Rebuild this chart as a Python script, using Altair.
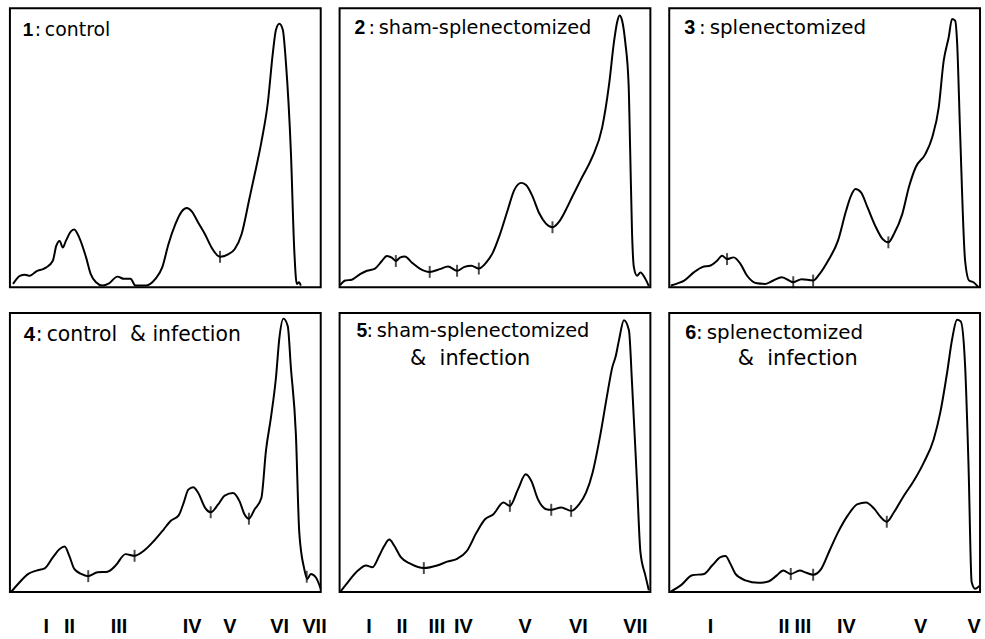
import altair as alt
import pandas as pd

# ---------------- data (x: % of panel width, y: % of panel height) ----------------
P1_X = [1, 3.2, 4.8, 6.4, 8.5, 10.6, 11.7, 13.8, 14.9, 16, 17, 18, 19.7, 20.7, 22.3, 24.5, 26, 27.7, 29.8, 31.9,
        34.6, 36.7, 38.8, 40.4, 43.6, 46.8, 49, 51, 53.2, 55.3, 56.9, 58.5, 60.6, 62.8, 64.9, 67.6, 70.2, 72.3, 74.5, 77.1,
        78.7, 80.9, 83, 84.6, 85.6, 86.7, 87.8, 88.8, 90.4, 91.5, 92.3, 93, 93.6]
P1_Y = [1.2, 4.1, 4.5, 4.1, 5.7, 6.5, 7.1, 9.5, 14.8, 16.6, 14.2, 16.6, 20.1, 20.7, 17.8, 10.7, 4.7, 1.8, 0.6, 1.4,
        3.8, 3, 3, 0.6, 0.6, 3, 7.1, 15.4, 22.5, 27.2, 28.4, 27.2, 23.1, 18.9, 14.2, 10.9, 11.8, 13.6, 18.9, 32,
        40.2, 52, 66.3, 84, 92.3, 94.4, 92.3, 80.5, 48.5, 13, 1.2, 1.8, 0.6]
P1_TX = [67.6]
P1_TY = [10.9]

P2_X = [0.2, 1.8, 3.9, 6.6, 8.8, 11.4, 13.6, 15.2, 16.8, 18.1, 19.4, 21, 23.2, 25.8, 29, 32.2, 34.9, 37.8, 40.2, 42.4,
        44.8, 47.2, 49.3, 51.4, 54.1, 56.2, 58.4, 60, 62.1, 64.2, 66.4, 68.5, 70.7, 72.8, 74.9, 78.1, 81.3, 84.5, 86.7, 88.3,
        89.3, 90.1, 90.9, 91.9, 93, 93.5, 94.1, 94.7, 95.7, 96.8, 98.4, 99.5]
P2_Y = [0.8, 2.4, 2.7, 4.7, 5.9, 6.7, 9.4, 11.2, 10.6, 9.4, 10.6, 11, 8.9, 6.7, 5.5, 6.5, 7.4, 5.9, 7.3, 7.7,
        6.7, 8.9, 12.4, 18.3, 27.7, 34.8, 37.4, 36.6, 32.5, 26.6, 22.8, 21.5, 23.6, 27.7, 32.5, 39.6, 46.6, 57.3, 72.6, 88,
        95, 97.4, 95.6, 88, 72.6, 49, 19.5, 7.1, 4.1, 5.3, 3, 0.4]
P2_TX = [18.1, 29, 37.8, 44.8, 68.5]
P2_TY = [9.4, 5.5, 5.9, 6.7, 21.5]

P3_X = [0.5, 2.7, 4.8, 8, 10.6, 13.3, 15.4, 17, 18.6, 20.7, 22.9, 25, 28.2, 30.9, 33.5, 36.2, 39.9, 42.6, 46.3, 48.4,
        51.1, 54.3, 56.9, 58.5, 59.9, 61.7, 63.8, 66.5, 68.6, 70.5, 72.3, 75, 77.1, 79.3, 82.4, 84.6, 86.7, 88.3, 89.9, 91,
        92, 92.6, 93.6, 95.2, 96.5, 97.9, 99.5]
P3_Y = [0.6, 1.4, 2.4, 5.4, 7.2, 7.8, 9.5, 11.3, 10.1, 10.7, 8.4, 4.2, 1.4, 1.2, 2.4, 3.6, 1.8, 2.9, 2.4, 4.8,
        9.5, 16.7, 27.4, 32.8, 35.2, 34, 28.6, 21.5, 17.3, 16.1, 19.1, 26.3, 35.8, 43, 47.7, 53.7, 64.4, 81.1, 89.5, 96.1,
        95.5, 88.3, 54.9, 9.5, 2.4, 1.8, 0]
P3_TX = [18.6, 39.9, 46.3, 70.5]
P3_TY = [10.1, 1.8, 2.4, 16.1]

P4_X = [0.5, 3.2, 5.9, 8.5, 11.2, 13.8, 16, 17.6, 19.1, 20.7, 22.9, 25.2, 28.2, 31.4, 34, 37.2, 40.1, 43.1, 46.3, 49.5,
        51.6, 54.3, 55.9, 57.4, 59, 60.6, 62.8, 64.6, 67, 69.1, 71.8, 73.9, 75.5, 76.9, 78.7, 80.9, 82.4, 84, 85.6, 86.7,
        88, 89.4, 90.4, 92, 93.1, 94.7, 95.7, 96.8, 98.4, 100]
P4_Y = [0.2, 3.6, 6.5, 7.7, 8.5, 12.4, 15.4, 16.3, 13, 8.3, 6.5, 5.7, 7.1, 7.3, 9.5, 13.6, 13, 14.8, 18.3, 22.5,
        25.4, 27.5, 32, 36.7, 37.6, 35.5, 30.2, 28.6, 31.4, 34.6, 35.5, 32.5, 27.8, 26.3, 29.6, 33.7, 50.9, 62.7, 76.9, 91.1,
        98, 95.3, 80.5, 56.8, 21.3, 8.3, 4.7, 6.5, 5.3, 1.2]
P4_TX = [25.2, 40.1, 64.6, 76.9, 95.5]
P4_TY = [5.7, 13, 28.6, 26.3, 5.5]

P5_X = [0.3, 2.7, 5.9, 8.5, 10.6, 12.8, 14.4, 16, 17.6, 19.7, 22.9, 27.1, 31.4, 34.6, 37.8, 41, 44.1, 46.8, 49.5, 52.7,
        54.8, 57.4, 59.9, 61.7, 63.8, 66.5, 68.1, 71.3, 74.5, 77.1, 79.3, 81.4, 84, 86.2, 87.8, 88.8, 89.9, 91.5, 93.1, 94.1,
        95.7, 96.8, 98.4, 99.5]
P5_Y = [0.2, 3.6, 7.7, 9.5, 8.9, 13.1, 16.6, 18.8, 16.6, 12.5, 10.1, 8.6, 9.5, 10.9, 11.9, 14.8, 21.4, 26.1, 27.9, 32.1,
        30.9, 36.8, 42.2, 39.8, 33.3, 29.7, 29.5, 30.3, 29.1, 31.5, 35.6, 42.8, 57, 71.3, 80.8, 84.3, 90.3, 97.4, 93.8, 74.8,
        39.2, 14.3, 5.9, 0.6]
P5_TX = [27.1, 54.8, 68.1, 74.5]
P5_TY = [8.6, 30.9, 29.5, 29.1]

P6_X = [0.5, 3.7, 7.4, 11.2, 13.8, 16.5, 18.1, 19.7, 21.3, 24.5, 28.7, 31.9, 34.6, 36.7, 39.1, 42, 44.1, 46.3, 48.9, 51.6,
        54.3, 57.4, 60.6, 63.3, 66, 68.1, 70, 72.3, 75.5, 78.7, 81.9, 85.1, 87.2, 89.4, 91, 92.6, 93.8, 95.2, 96.3, 97.3,
        98.4, 100]
P6_Y = [0.2, 2.4, 6, 6.5, 9.5, 12.5, 12.9, 10.1, 6.5, 4.2, 3.3, 3.8, 6, 7.7, 6.5, 7.7, 6.9, 6.2, 8.3, 14.9,
        21.4, 27.4, 31.5, 32.1, 29.8, 26.8, 25.2, 28.6, 34.5, 39.9, 46.4, 54.8, 64.3, 78.6, 90.5, 97.6, 97, 81, 45.2, 3.6,
        1.2, 2.4]
P6_TX = [39.1, 46.3, 70]
P6_TY = [6.5, 6.2, 25.2]

# fraction labels under the bottom row
P4_LAB = ["I", "II", "III", "IV", "V", "VI", "VII"]
P4_LAB_X = [11.7, 19.2, 35.1, 58.6, 70.8, 86.8, 98.0]
P5_LAB = ["I", "II", "III", "IV", "V", "VI", "VII"]
P5_LAB_X = [9.5, 20.1, 31.3, 39.8, 59.7, 76.8, 95.2]
P6_LAB = ["I", "II", "III", "IV", "V", "V"]
P6_LAB_X = [13.3, 36.9, 43.0, 57.0, 80.9, 98.1]

TITLES = [
    ("1", ":\u2009control", None),
    ("2", ":\u2009sham-splenectomized", None),
    ("3", ":\u2009splenectomized", None),
    ("4", ":\u2009control\u00a0\u00a0&\u00a0infection", None),
    ("5", ":\u2009sham-splenectomized", "&\u00a0\u00a0infection"),
    ("6", ":\u2009splenectomized", "&\u00a0\u00a0infection"),
]

# ---------------- layout / style ----------------
W, H = 313, 281
FONT = "DejaVu Sans"
# per-panel title placement: number x, colon x, baseline y, font size, line-2 x, line-2 baseline, line-2 size
TSTYLE = [
    (13, 25, 28, 19.0, 0, 0, 0),
    (15, 29, 26, 19.5, 0, 0, 0),
    (15, 30, 26, 20.0, 0, 0, 0),
    (14, 26, 28, 20.5, 0, 0, 0),
    (17, 27, 24, 19.5, 71, 52, 21),
    (16, 27, 26, 20.0, 69, 52, 21),
]

xs = alt.Scale(domain=[0, 100], nice=False, zero=False)
ys = alt.Scale(domain=[0, 100], nice=False, zero=False)


def text_layer(s, x, y, size, weight="normal", font=FONT):
    return alt.Chart(pd.DataFrame({"t": [s]})).mark_text(
        align="left", baseline="alphabetic", font=font, fontSize=size,
        fontWeight=weight, color="black"
    ).encode(x=alt.value(x), y=alt.value(y), text="t:N")


def panel(i, px, py, tx, ty, labs=None, labx=None):
    curve = alt.Chart(pd.DataFrame({"x": px, "y": py})).mark_line(
        color="black", strokeWidth=2, interpolate="monotone"
    ).encode(x=alt.X("x:Q", scale=xs, axis=None), y=alt.Y("y:Q", scale=ys, axis=None))
    ticks = alt.Chart(pd.DataFrame({"x": tx, "y": ty})).mark_tick(
        orient="vertical", color="black", size=12, thickness=2
    ).encode(x=alt.X("x:Q", scale=xs, axis=None), y=alt.Y("y:Q", scale=ys, axis=None))
    num, name, line2 = TITLES[i]
    nx, cx, by, fs, l2x, l2y, l2s = TSTYLE[i]
    layers = [curve, ticks,
              text_layer(num, nx, by, fs, "bold", "Liberation Sans"),
              text_layer(name, cx, by, fs)]
    if line2:
        layers.append(text_layer(line2, l2x, l2y, l2s))
    if labs:
        lab = alt.Chart(pd.DataFrame({"x": labx, "t": labs})).mark_text(
            align="center", baseline="alphabetic", font="Liberation Sans Narrow, Liberation Sans",
            fontSize=20, fontWeight="bold", color="black"
        ).encode(x=alt.X("x:Q", scale=xs, axis=None), y=alt.value(H + 41), text="t:N")
        layers.append(lab)
    return alt.layer(*layers).properties(width=W, height=H)


charts = [
    panel(0, P1_X, P1_Y, P1_TX, P1_TY),
    panel(1, P2_X, P2_Y, P2_TX, P2_TY),
    panel(2, P3_X, P3_Y, P3_TX, P3_TY),
    panel(3, P4_X, P4_Y, P4_TX, P4_TY, P4_LAB, P4_LAB_X),
    panel(4, P5_X, P5_Y, P5_TX, P5_TY, P5_LAB, P5_LAB_X),
    panel(5, P6_X, P6_Y, P6_TX, P6_TY, P6_LAB, P6_LAB_X),
]

chart = alt.concat(
    *charts, columns=3, spacing=alt.RowColnumber(row=26, column=19), bounds="flush",
    padding={"left": 6, "top": 5, "right": 0, "bottom": 0}, background="white"
).configure_view(stroke="black", strokeWidth=2)

chart.save("out.html", embed_options={"renderer": "svg", "actions": False})
